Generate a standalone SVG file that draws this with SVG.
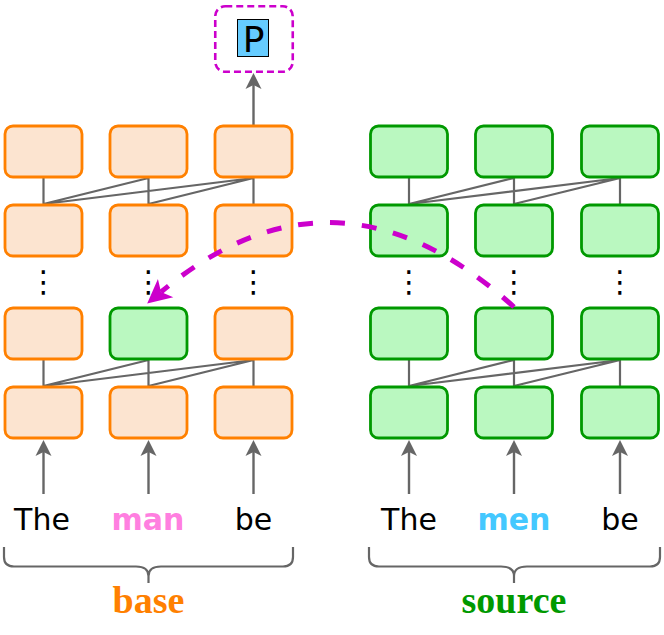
<svg xmlns="http://www.w3.org/2000/svg" width="664" height="635" viewBox="0 0 664 635">
<style>
.bo{fill:#fce4d0;stroke:#ff8000;stroke-width:2.8}
.bg{fill:#baf8c0;stroke:#009900;stroke-width:2.8}
.ln{stroke:#666666;stroke-width:2.2;fill:none}
.ar{stroke:#666666;stroke-width:2.4;fill:none;marker-end:url(#ga)}
.w{font-family:"DejaVu Sans",sans-serif;font-size:30px;text-anchor:middle;fill:#000}
.dots{font-family:"DejaVu Sans",sans-serif;font-size:30px;text-anchor:middle;fill:#000}
.lab{font-family:"Liberation Serif",serif;font-size:38px;font-weight:bold;text-anchor:middle}
</style>
<defs>
<marker id="ga" markerUnits="userSpaceOnUse" viewBox="-5 -9 18 18" refX="0" refY="0" markerWidth="18" markerHeight="18" orient="auto">
<path d="M12,0 L-4,-8 L0,0 L-4,8 Z" fill="#666666"/>
</marker>
<marker id="ma" markerUnits="userSpaceOnUse" viewBox="-7 -13 26 26" refX="0" refY="0" markerWidth="26" markerHeight="26" orient="auto">
<path d="M18,0 L-6,-12 L0,0 L-6,12 Z" fill="#cc00cc"/>
</marker>
</defs>

<g id="connectors">
<path class="ln" d="M43.5,178 V205 M148.5,178 V205 M253.5,178 V205 M43.5,204 L148.5,178 M43.5,204 L253.5,178 M148.5,204 L253.5,178"/>
<path class="ln" d="M43.5,360 V387 M148.5,360 V387 M253.5,360 V387 M43.5,386 L148.5,360 M43.5,386 L253.5,360 M148.5,386 L253.5,360"/>
<path class="ln" d="M409,178 V205 M514,178 V205 M620,178 V205 M409,204 L514,178 M409,204 L620,178 M514,204 L620,178"/>
<path class="ln" d="M409,360 V387 M514,360 V387 M620,360 V387 M409,386 L514,360 M409,386 L620,360 M514,386 L620,360"/>
<path class="ar" d="M43.5,494 V452"/>
<path class="ar" d="M148.5,494 V452"/>
<path class="ar" d="M253.5,494 V452"/>
<path class="ar" d="M409,494 V452"/>
<path class="ar" d="M514,494 V452"/>
<path class="ar" d="M620,494 V452"/>
<path class="ar" d="M253.5,125 V85"/>
</g>

<g id="base-l1-t1"><rect class="bo" x="5" y="126" width="77" height="51" rx="8"/></g>
<g id="base-l1-t2"><rect class="bo" x="110" y="126" width="77" height="51" rx="8"/></g>
<g id="base-l1-t3"><rect class="bo" x="215" y="126" width="77" height="51" rx="8"/></g>
<g id="base-l2-t1"><rect class="bo" x="5" y="205" width="77" height="51" rx="8"/></g>
<g id="base-l2-t2"><rect class="bo" x="110" y="205" width="77" height="51" rx="8"/></g>
<g id="base-l2-t3"><rect class="bo" x="215" y="205" width="77" height="51" rx="8"/></g>
<g id="base-l3-t1"><rect class="bo" x="5" y="308" width="77" height="51" rx="8"/></g>
<g id="base-l3-t2"><rect class="bg" x="110" y="308" width="77" height="51" rx="8"/></g>
<g id="base-l3-t3"><rect class="bo" x="215" y="308" width="77" height="51" rx="8"/></g>
<g id="base-l4-t1"><rect class="bo" x="5" y="387" width="77" height="51" rx="8"/></g>
<g id="base-l4-t2"><rect class="bo" x="110" y="387" width="77" height="51" rx="8"/></g>
<g id="base-l4-t3"><rect class="bo" x="215" y="387" width="77" height="51" rx="8"/></g>

<g id="src-l1-t1"><rect class="bg" x="370.5" y="126" width="77" height="51" rx="8"/></g>
<g id="src-l1-t2"><rect class="bg" x="475.5" y="126" width="77" height="51" rx="8"/></g>
<g id="src-l1-t3"><rect class="bg" x="581.5" y="126" width="77" height="51" rx="8"/></g>
<g id="src-l2-t1"><rect class="bg" x="370.5" y="205" width="77" height="51" rx="8"/></g>
<g id="src-l2-t2"><rect class="bg" x="475.5" y="205" width="77" height="51" rx="8"/></g>
<g id="src-l2-t3"><rect class="bg" x="581.5" y="205" width="77" height="51" rx="8"/></g>
<g id="src-l3-t1"><rect class="bg" x="370.5" y="308" width="77" height="51" rx="8"/></g>
<g id="src-l3-t2"><rect class="bg" x="475.5" y="308" width="77" height="51" rx="8"/></g>
<g id="src-l3-t3"><rect class="bg" x="581.5" y="308" width="77" height="51" rx="8"/></g>
<g id="src-l4-t1"><rect class="bg" x="370.5" y="387" width="77" height="51" rx="8"/></g>
<g id="src-l4-t2"><rect class="bg" x="475.5" y="387" width="77" height="51" rx="8"/></g>
<g id="src-l4-t3"><rect class="bg" x="581.5" y="387" width="77" height="51" rx="8"/></g>

<g id="intervention">
<path d="M514,307 Q336,146 161,292" fill="none" stroke="#cc00cc" stroke-width="5" stroke-dasharray="15 17" marker-end="url(#ma)"/>
</g>

<g id="dots">
<text class="dots" x="43.5" y="292">⋮</text>
<text class="dots" x="148.5" y="292">⋮</text>
<text class="dots" x="253.5" y="292">⋮</text>
<text class="dots" x="409" y="292">⋮</text>
<text class="dots" x="514" y="292">⋮</text>
<text class="dots" x="620" y="292">⋮</text>
</g>

<g id="output-p">
<rect x="215.25" y="6.25" width="77.5" height="65.5" rx="10" fill="none" stroke="#cc00cc" stroke-width="2.6" stroke-dasharray="7 4"/>
<rect x="237.5" y="19.5" width="31" height="37" fill="#66ccff" stroke="#000" stroke-width="1"/>
<text x="253.5" y="52" font-family="DejaVu Sans, sans-serif" font-size="36" text-anchor="middle" fill="#000">P</text>
</g>

<g id="words">
<text class="w" x="42" y="530">The</text>
<text class="w" x="148" y="530" font-weight="bold" style="fill:#ff7fe0">man</text>
<text class="w" x="253.5" y="530">be</text>
<text class="w" x="409" y="530">The</text>
<text class="w" x="514" y="530" font-weight="bold" style="fill:#44c8ff">men</text>
<text class="w" x="620" y="530">be</text>
</g>

<g id="base-brace">
<path class="ln" d="M4,547 V557 Q4,566.5 14,566.5 H136 Q148.5,566.5 148.5,576 V583 M293,547 V557 Q293,566.5 283,566.5 H161 Q148.5,566.5 148.5,576"/>
<text class="lab" x="148.5" y="613" fill="#ff8000">base</text>
</g>
<g id="source-brace">
<path class="ln" d="M369,547 V557 Q369,566.5 379,566.5 H501 Q514,566.5 514,576 V583 M660,547 V557 Q660,566.5 650,566.5 H527 Q514,566.5 514,576"/>
<text class="lab" x="514" y="613" fill="#009900">source</text>
</g>
</svg>
